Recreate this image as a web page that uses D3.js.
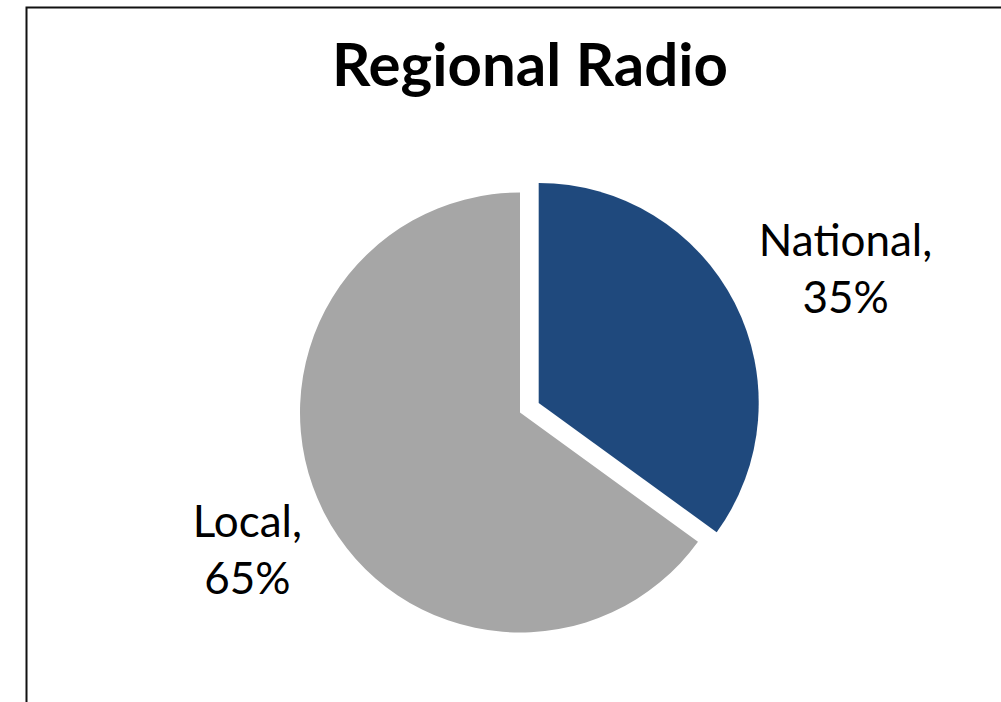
<!DOCTYPE html>
<html>
<head>
<meta charset="utf-8">
<script src="https://cdn.jsdelivr.net/npm/d3@7"></script>
<style>
  html, body { margin: 0; padding: 0; background: #fff; }
  svg { display: block; }
</style>
</head>
<body>
<svg id="chart" width="1001" height="702"></svg>
<script>
// Share of regional radio listening
const categories = ["National", "Local"];
const shares = [35, 65];
const colors = ["#1F497D", "#A6A6A6"];
const chartTitle = "Regional Radio";

const W = 1001, H = 702;
const svg = d3.select("#chart");

// chart frame (right and bottom edges run off the page)
svg.append("rect")
  .attr("x", 26.5).attr("y", 7.5)
  .attr("width", W + 20).attr("height", H + 20)
  .attr("fill", "#fff")
  .attr("stroke", "#111").attr("stroke-width", 2);

svg.append("text")
  .attr("x", 530).attr("y", 86)
  .attr("text-anchor", "middle")
  .attr("font-family", "Lato, 'Open Sans', sans-serif")
  .attr("font-weight", "bold")
  .attr("font-size", 60)
  .attr("fill", "#000")
  .text(chartTitle);

const cx = 520, cy = 412.5, radius = 220;
const explode = [21, 0];   // National slice pulled out

const pie = d3.pie().sort(null).value(d => d.value)
  .startAngle(0).endAngle(2 * Math.PI);
const data = categories.map((c, i) => ({ name: c, value: shares[i], color: colors[i], explode: explode[i] }));
const arcs = pie(data);
const arc = d3.arc().innerRadius(0).outerRadius(radius);

const g = svg.append("g").attr("transform", `translate(${cx},${cy})`);

g.selectAll("path.slice")
  .data(arcs)
  .join("path")
  .attr("class", "slice")
  .attr("d", arc)
  .attr("fill", d => d.data.color)
  .attr("transform", d => {
    const mid = (d.startAngle + d.endAngle) / 2;
    const o = d.data.explode;
    return `translate(${o * Math.sin(mid)},${-o * Math.cos(mid)})`;
  });

// data labels placed outside each slice
const labelPlace = [{ dAngle: 3.5, r: 355 }, { dAngle: 0, r: 306 }];
const lineGap = 57;

const labels = g.selectAll("g.label")
  .data(arcs)
  .join("g")
  .attr("class", "label")
  .attr("transform", (d, i) => {
    const mid = (d.startAngle + d.endAngle) / 2 + labelPlace[i].dAngle * Math.PI / 180;
    const R = labelPlace[i].r;
    return `translate(${R * Math.sin(mid)},${-R * Math.cos(mid)})`;
  });

labels.append("text")
  .attr("text-anchor", "middle")
  .attr("font-family", "Lato, 'Open Sans', sans-serif")
  .attr("font-size", 44)
  .attr("fill", "#000")
  .selectAll("tspan")
  .data(d => [d.data.name + ",", d.data.value + "%"])
  .join("tspan")
  .attr("x", 0)
  .attr("y", (t, j) => -lineGap / 2 + 14 + j * lineGap)
  .text(t => t);
</script>
</body>
</html>
